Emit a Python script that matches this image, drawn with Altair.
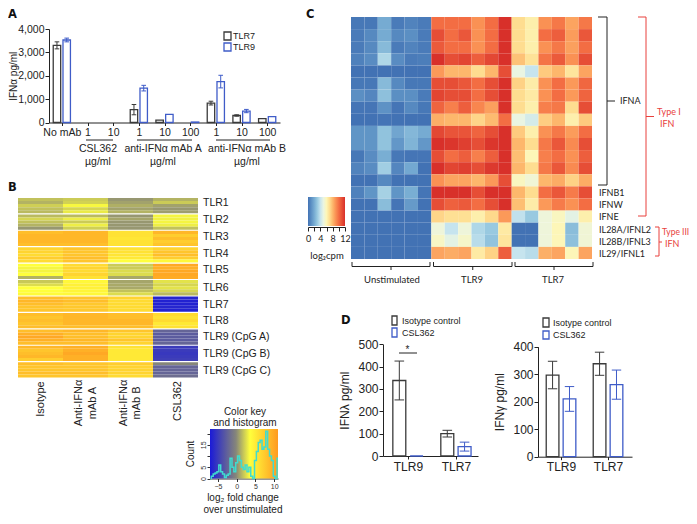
import altair as alt
import pandas as pd

# ---------- Panel A ----------
a_groups = ["No mAb", "1", "10", "1", "10", "100", "1", "10", "100"]
a_tlr7 = [3300, 0, 0, 550, 100, 0, 830, 300, 170]
a_tlr7_err = [150, 0, 0, 220, 0, 0, 80, 30, 0]
a_tlr9 = [3530, 0, 0, 1470, 350, 20, 1750, 490, 250]
a_tlr9_err = [80, 0, 0, 120, 0, 0, 270, 70, 0]
a_has_7 = [1, 0, 0, 1, 1, 0, 1, 1, 1]
a_has_9 = [1, 0, 0, 1, 1, 1, 1, 1, 1]

# ---------- Panel D ----------
d_groups = ["TLR9", "TLR7"]
d1_iso = [338, 100]
d1_iso_err = [87, 15]
d1_csl = [0, 42]
d1_csl_err = [0, 20]
d2_iso = [297, 338]
d2_iso_err = [50, 42]
d2_csl = [210, 262]
d2_csl_err = [45, 53]

# ---------- Panel B ----------
b_genes = ["TLR1", "TLR2", "TLR3", "TLR4", "TLR5", "TLR6", "TLR7", "TLR8",
           "TLR9 (CpG A)", "TLR9 (CpG B)", "TLR9 (CpG C)"]
b_cols = ["Isotype", "A", "B", "CSL362"]
b_iso = [[1.2, .8, 1.6, 1.2, 1.0], [1.0, 1.8, 1.2, .8, 0], [7.5, 8, 8, 8, 7.5], [6, 6, 5.5, 6.5, 5.5],
         [3, 2.7, 2.7, 3, .8], [1.4, 2, 3, 3, 3.3], [7.5, 8, 7.5, 7, 7], [7.5, 7, 7.5, 7, 7.5],
         [7.5, 8.5, 9, 8.5, 7.5], [8, 7, 7.5, 8, 6.5], [7.5, 7, 7, 7.5, 7]]
b_a = [[1.5, 1.7, 2.8, 1.8, 2.4], [1.0, 2.5, 1.5, 2.5, 1.6], [8, 8, 8, 8, 7.5], [7, 7, 7, 7.5, 7],
       [5.5, 6, 5.5, 6, 5], [3.5, 4, 4, 3.7, 3.5], [7, 7.5, 6.8, 6.8, 6.8], [8, 8, 8, 8, 7.5],
       [8, 7.5, 7.5, 8, 7.5], [8.5, 8.5, 9, 8.5, 8.5], [7, 7, 7, 7.5, 7]]
b_b = [[0, .3, .7, .3, .8], [0, .4, 0, 0, 0], [5, 5, 4.7, 5, 5], [5, 5, 4.8, 4.5, 3],
       [1.5, 1.5, 2, 2, .5], [.4, .5, .5, 1.2, 2], [6, 5.5, 5.5, 5.5, 5.5], [7.5, 7.5, 8, 8, 7.5],
       [7, 6, 6, 7, 6], [5, 4.5, 4.5, 4.5, 4.5], [6.5, 6, 6, 6, 5.5]]
b_csl = [[.8, 1.5, .3, 0, .2], [2.7, 2.6, 2.7, 2.5, 1.2], [8, 6.5, 7.5, 6.5, 7], [6, 7, 7.5, 6.5, 3.5],
         [9, 8.5, 9, 9, 8.8], [2.2, 1.8, 2.2, 1.8, 1], [-6.3, -6.5, -6.5, -6.3, -6.5], [5.5, 5, 5.5, 4.5, 5],
         [-2.5, -3, -3, -3, -2.5], [-5, -5, -5.2, -5, -4.8], [-.5, -2.5, -2.5, -2.5, -2]]

# histogram of the colour key
hist_x = [-7, -6.5, -6, -5.5, -5, -4.5, -4, -3.5, -3, -2.5, -2, -1.5, -1, -.5, 0, .5, 1, 1.5, 2, 2.5,
          3, 3.5, 4, 4.5, 5, 5.5, 6, 6.5, 7, 7.5, 8, 8.5, 9, 9.5, 10, 10.5, 11]
hist_n = [0, 1, 2, 2.5, 3, 6, 3, 2, .5, 1.5, 2, 9, 5, 3, 7, 10, 8, 5, 4, 6,
          3, 5, 1, 0, 8, 12, 16, 17, 13, 14, 21, 13, 10, 8, 1, 0, 9]

# ---------- Panel C: rows top to bottom, columns Unstimulated / TLR9 / TLR7 ----------
c_rows = ["IFNA1", "IFNA2", "IFNA3", "IFNA4", "IFNA5", "IFNA6", "IFNA7", "IFNA8", "IFNA9", "IFNA10",
          "IFNA11", "IFNA12", "IFNA13", "IFNA14", "IFNB1", "IFNW", "IFNE", "IL28A", "IL28B", "IL29"]
c_values = [
    [.2, .2, 2, .3, .6, .3, 10, 10, 10, 9, 10, 12, 7, 6.3, 9, 9.7, 8.5, 9.7],
    [.3, .8, 2, .8, 1, .3, 11, 10, 10.7, 9, 10, 12, 7, 6.3, 10, 10.5, 8.7, 10.7],
    [.3, .8, 2.5, .3, .6, .3, 10.6, 10, 10, 9, 10, 12, 7, 6.3, 9, 9.7, 8.6, 10],
    [.5, .9, 3.5, .9, .3, .4, 12, 11, 11.3, 10.5, 11.2, 12, 7.7, 6.8, 9.8, 10.6, 9, 11],
    [0, 0, 0, 0, 0, 0, 8.8, 8, 8, 7, 8, 11, 5, 4, 7.5, 8, 6.7, 8.5],
    [.2, .2, 2.5, .8, .2, .2, 11, 11, 10.7, 10, 11, 12, 7.3, 6.4, 9, 10, 8.8, 10.2],
    [1, .7, 2.7, 1, 1, .3, 11.3, 11, 11, 10, 11, 12, 7, 6.5, 9, 10, 8.8, 10.3],
    [.1, .1, 1.1, .1, .8, .2, 10.3, 9.5, 10.5, 9.3, 8.6, 12, 7, 6.3, 9.5, 9.7, 7, 11],
    [0, 0, .1, 0, 0, 0, 8.2, 8, 8, 7.2, 7.9, 10, 5, 4.4, 7.4, 8, 6.3, 7.5],
    [1.2, 1.2, 2.8, 1.8, 2.4, 2, 11.2, 10.8, 10.8, 10.3, 11, 12, 7.5, 6.3, 9, 9.7, 8.7, 10],
    [1.2, 1.2, 2.8, 1.3, 2.3, 1.3, 12, 11.8, 11.5, 11, 11.8, 12, 8, 7, 9.7, 10.7, 9.2, 11],
    [.2, .9, 2.1, .2, .1, .1, 11, 10, 10.5, 9.5, 10.5, 12, 7.8, 6, 9.5, 10, 9, 10.5],
    [.6, .9, 3.2, .7, 1.9, 0, 12, 11.3, 11.5, 11, 11.7, 12, 8, 7, 9.7, 10.7, 9.2, 11],
    [0, 0, .8, 0, 0, 0, 9, 8.5, 8.5, 8, 8.8, 11, 5.8, 5.3, 8, 8.3, 7.3, 8.3],
    [.5, 1.2, 3.3, 1.2, 2.1, .1, 12, 12, 12, 11, 12, 12, 8, 7, 10, 10.7, 9.6, 11],
    [0, 0, 2.6, .1, 1.4, 0, 11, 10.4, 10.6, 10, 11, 12, 7.8, 6.4, 8.8, 9.6, 9, 10],
    [0, 0, 0, 0, 0, 0, 7.2, 6.9, 6.9, 6.3, 7.1, 8.8, 3.9, 3, 5.2, 5.8, 4.8, 6.3],
    [0, 0, 0, 0, 0, 0, 5.2, 4, 5.2, 3.5, 3, 6.5, 0, 0, 5.2, 6, 2.6, 5.3],
    [0, 0, 0, 0, 0, 0, 5.7, 4.8, 5.6, 3.7, 2.8, 6.7, 0, 0, 5.2, 6, 2.7, 5.3],
    [0, 0, 0, 0, 0, 0, 8.5, 8.3, 8.5, 6.5, 7.3, 10.5, 4, 3.7, 8.2, 8.5, 6, 8.5],
]

# ---------- styling ----------
SANS = "Liberation Sans"
CAL = "Lato"
GREY = "#3a3a3a"
BLUE = "#3f5cc8"
RED = "#e8413c"
M = 8  # page margin
W, H = 681, 508

c_dom = [0, 1, 2, 3, 4, 5, 6, 7, 8, 9, 10, 11, 12]
c_rng = ["#4272b4", "#5b8fc3", "#76abd2", "#98c9e0", "#c6e4ee", "#eaf5e2", "#fdf6b8",
         "#fedd90", "#fdb76c", "#fa9154", "#f36d43", "#e64e36", "#d8302a"]
b_dom = [-7, -.5, 3, 10]
b_rng = ["#1a1ad8", "#86867a", "#ffff3c", "#ff9a20"]

ONE = alt.Data(values=[{"k": 1}])


def text(t, x, y, size=10, font=SANS, color="#222222", align="center", angle=0, weight="normal"):
    return alt.Chart(ONE).mark_text(text=t, font=font, fontSize=size, color=color, align=align,
                                    baseline="middle", angle=angle, fontWeight=weight).encode(
        x=alt.value(x - M), y=alt.value(y - M))


def panel_letter(t, x, y):
    return text(t, x, y, 11.5, font="DejaVu Sans", weight="bold", align="left", color="#111111")


def line(x1, y1, x2, y2, color="#222222", w=1.0):
    return alt.Chart(ONE).mark_rule(color=color, strokeWidth=w).encode(
        x=alt.value(x1 - M), y=alt.value(y1 - M), x2=alt.value(x2 - M), y2=alt.value(y2 - M))


def box(x1, y1, x2, y2, color):
    return alt.Chart(ONE).mark_rect(fill="white", stroke=color, strokeWidth=1.3).encode(
        x=alt.value(x1 - M), y=alt.value(y1 - M), x2=alt.value(x2 - M), y2=alt.value(y2 - M))


def gradient_rect(x1, y1, x2, y2, dom, rng):
    lo, hi = dom[0], dom[-1]
    stops = [alt.GradientStop(offset=(d - lo) / (hi - lo), color=c) for d, c in zip(dom, rng)]
    return alt.Chart(ONE).mark_rect(color=alt.LinearGradient(gradient="linear", stops=stops,
                                                             x1=0, x2=1, y1=0, y2=0)).encode(
        x=alt.value(x1 - M), y=alt.value(y1 - M), x2=alt.value(x2 - M), y2=alt.value(y2 - M))


def bar_panel(df, labels, xdom, xpx, ydom, ypx, yvals, ylabel, yfmt, label_size, off, bw, cap,
              title_pad, title_size, stroke_w=1.3):
    """df: idx, series, value, err, has"""
    d = df.copy()
    d["c"] = d["idx"] + d["series"].map({"a": -off, "b": off})
    d["l"] = d["c"] - bw / 2
    d["r"] = d["c"] + bw / 2
    d["lo"] = d["value"] - d["err"]
    d["hi"] = d["value"] + d["err"]
    d["cl"] = d["c"] - cap
    d["cr"] = d["c"] + cap
    xs = alt.Scale(domain=xdom, range=[xpx[0] - M, xpx[1] - M], nice=False, zero=False)
    ys = alt.Scale(domain=ydom, range=[ypx[0] - M, ypx[1] - M], nice=False, zero=False)
    st = alt.Stroke("series:N", scale=alt.Scale(domain=["a", "b"], range=[GREY, BLUE]), legend=None)
    label_list = ",".join("'%s'" % s for s in labels)
    xaxis = alt.Axis(values=list(range(len(labels))), labelExpr="[%s][datum.value]" % label_list,
                     title=None, grid=False, orient="bottom", offset=(ypx[0] - M) - H,
                     labelFont=SANS, labelFontSize=label_size, labelColor="#222222",
                     domainColor="#222222", tickColor="#222222", tickSize=3, labelPadding=2,
                     labelOverlap=False, labelFlush=False)
    yaxis = alt.Axis(values=yvals, format=yfmt, title=ylabel, grid=False, orient="left",
                     offset=-(xpx[0] - M), labelFont=SANS, labelFontSize=label_size,
                     labelColor="#222222", domainColor="#222222", tickColor="#222222",
                     tickSize=4, labelPadding=1, titleFont=SANS, titleFontSize=title_size,
                     titleFontWeight="normal", titleColor="#222222", titlePadding=title_pad,
                     labelOverlap=False)
    bar_df = d[d["has"] == 1]
    err_df = d[d["err"] > 0]
    return [
        alt.Chart(bar_df).mark_rect(fill="white", strokeWidth=stroke_w).encode(
            x=alt.X("l:Q", scale=xs, axis=xaxis), x2="r:Q",
            y=alt.Y("value:Q", scale=ys, axis=yaxis), y2=alt.Y2(datum=0), stroke=st),
        alt.Chart(err_df).mark_rule(strokeWidth=1).encode(
            x=alt.X("c:Q", scale=xs, axis=None), y=alt.Y("lo:Q", scale=ys, axis=None), y2="hi:Q", stroke=st),
        alt.Chart(err_df).mark_rule(strokeWidth=1).encode(
            x=alt.X("cl:Q", scale=xs, axis=None), x2="cr:Q", y=alt.Y("lo:Q", scale=ys, axis=None), stroke=st),
        alt.Chart(err_df).mark_rule(strokeWidth=1).encode(
            x=alt.X("cl:Q", scale=xs, axis=None), x2="cr:Q", y=alt.Y("hi:Q", scale=ys, axis=None), stroke=st),
    ]


def two_series(a, ae, b, be, has_a, has_b):
    rows = []
    for i in range(len(a)):
        rows.append({"idx": i, "series": "a", "value": a[i], "err": ae[i], "has": has_a[i]})
        rows.append({"idx": i, "series": "b", "value": b[i], "err": be[i], "has": has_b[i]})
    return pd.DataFrame(rows)


layers = []

# ---- A ----
a_df = two_series(a_tlr7, a_tlr7_err, a_tlr9, a_tlr9_err, a_has_7, a_has_9)
layers += bar_panel(a_df, a_groups, [-.5, 8.5], [49, 280], [0, 4000], [122.5, 29],
                    [0, 1000, 2000, 3000, 4000], "IFN\u03b1 pg/ml", ",d", 10.5, .19, .29, .09, -1, 10)
layers += [
    panel_letter("A", 8, 15),
    box(224, 32, 231, 40, GREY), text("TLR7", 233, 36, 9, align="left"),
    box(224, 43, 231, 51, BLUE), text("TLR9", 233, 47, 9, align="left"),
    line(86, 140, 113, 140), line(137, 140, 192, 140), line(216, 140, 270, 140),
    text("CSL362", 98, 149, 10.5), text("\u00b5g/ml", 98, 162, 10.5),
    text("anti-IFN\u03b1 mAb A", 163, 149, 10.5), text("\u00b5g/ml", 163, 162, 10.5),
    text("anti-IFN\u03b1 mAb B", 247, 149, 10.5), text("\u00b5g/ml", 247, 162, 10.5),
]

# ---- B ----
b_table = []
for col, block in zip(b_cols, [b_iso, b_a, b_b, b_csl]):
    for g, sub in enumerate(block):
        for s, v in enumerate(sub):
            b_table.append({"col": col, "y0": g + s * .186, "y1": g + (s + 1) * .186, "v": v})
b_df = pd.DataFrame(b_table)
layers.append(
    alt.Chart(b_df).mark_rect().encode(
        x=alt.X("col:N", axis=None, sort=b_cols,
                scale=alt.Scale(domain=b_cols, range=[18 - M, 198 - M], paddingInner=0, paddingOuter=0)),
        y=alt.Y("y0:Q", axis=None, scale=alt.Scale(domain=[0, 10.93], range=[198 - M, 377.5 - M], nice=False, zero=False)),
        y2="y1:Q",
        color=alt.Color("v:Q", legend=None, scale=alt.Scale(domain=b_dom, range=b_rng, interpolate="rgb")),
    ))
b_label_y = [203, 220, 237, 254, 270, 288, 305, 321, 337, 354, 371]
for g, yy in zip(b_genes, b_label_y):
    layers.append(text(g, 203, yy, 10.5, align="left"))
layers += [
    panel_letter("B", 8, 188),
    text("Isotype", 41, 399, 11, angle=270),
    text("Anti-IFN\u03b1", 79, 403, 11, angle=270), text("mAb A", 93, 403, 11, angle=270),
    text("Anti-IFN\u03b1", 124, 403, 11, angle=270), text("mAb B", 137, 403, 11, angle=270),
    text("CSL362", 178, 401, 11, angle=270),
]

# B colour key with histogram
layers.append(gradient_rect(210, 429, 278, 478.5, b_dom, b_rng))
hist_df = pd.DataFrame({"x": hist_x, "n": hist_n})
layers.append(
    alt.Chart(hist_df).mark_line(color="#3fdcd0", strokeWidth=1.5, interpolate="step").encode(
        x=alt.X("x:Q", scale=alt.Scale(domain=[-7.1, 11], range=[210 - M, 278 - M], nice=False, zero=False),
                axis=alt.Axis(values=[-5, 0, 5, 10], title=None, grid=False, orient="bottom",
                              offset=(478.5 - M) - H, tickSize=3, labelFont=SANS, labelFontSize=7,
                              labelColor="#333333", domainColor="#333333", tickColor="#333333",
                              labelPadding=1)),
        y=alt.Y("n:Q", scale=alt.Scale(domain=[0, 22], range=[478.5 - M, 429 - M], nice=False, zero=False),
                axis=alt.Axis(values=[0, 5, 10, 15, 20], title=None, grid=False, orient="left",
                              offset=-(210 - M), tickSize=3, labelFont=SANS, labelFontSize=7,
                              labelAngle=270, labelAlign="center", labelBaseline="bottom",
                              labelExpr="datum.value==10||datum.value==20?'':datum.label",
                              labelColor="#333333", domainColor="#333333", tickColor="#333333",
                              labelPadding=1, labelOverlap=False)),
    ))
layers += [
    text("Color key", 245, 412, 10), text("and histogram", 245, 423, 10),
    text("Count", 190.5, 454, 10, angle=270),
    text("log\u2082 fold change", 243, 498, 10), text("over unstimulated", 243, 510, 10),
]

# ---- C ----
c_cols = list(range(18))
c_table = []
for r, row in zip(c_rows, c_values):
    for col, v in zip(c_cols, row):
        c_table.append({"row": r, "col": col, "v": v})
c_df = pd.DataFrame(c_table)
layers.append(
    alt.Chart(c_df).mark_rect().encode(
        x=alt.X("col:O", axis=None, scale=alt.Scale(domain=c_cols, range=[351 - M, 592 - M], paddingInner=0, paddingOuter=0)),
        y=alt.Y("row:N", axis=None, sort=c_rows,
                scale=alt.Scale(domain=c_rows, range=[17 - M, 259 - M], paddingInner=0, paddingOuter=0)),
        color=alt.Color("v:Q", legend=None, scale=alt.Scale(domain=c_dom, range=c_rng, interpolate="rgb")),
    ))
layers += [
    panel_letter("C", 306, 15),
    gradient_rect(308, 197, 345, 226, c_dom, c_rng),
]
key_ticks = pd.DataFrame({"t": [0, 2, 4, 6, 8, 10, 12]})
layers.append(
    alt.Chart(key_ticks).mark_point(opacity=0).encode(
        x=alt.X("t:Q", scale=alt.Scale(domain=[0, 12], range=[308 - M, 345 - M], nice=False, zero=False),
                axis=alt.Axis(values=[0, 2, 4, 6, 8, 10, 12], title=None, grid=False, orient="bottom",
                              offset=(227 - M) - H, tickSize=4, labelFont=CAL, labelFontSize=9,
                              labelExpr="datum.value%4==0?datum.label:''", labelColor="#222222",
                              domainColor="#222222", tickColor="#222222", labelPadding=3,
                              labelOverlap=False, labelFlush=False)),
    ))
layers.append(text("log\u2082cpm", 327, 256, 9.5, font=CAL))


def bracket_down(x1, x2, top, bottom, stem):
    mid = (x1 + x2) / 2
    return [line(x1, top, x1, bottom), line(x2, top, x2, bottom), line(x1, bottom, x2, bottom),
            line(mid, bottom, mid, stem)]


layers += bracket_down(352, 430, 262, 266.5, 270)
layers += bracket_down(433.5, 512, 262, 266.5, 270)
layers += bracket_down(515, 593, 262, 266.5, 270)
layers += [
    text("Unstimulated", 392, 280, 9.5, font=CAL),
    text("TLR9", 472, 280, 9.5, font=CAL),
    text("TLR7", 553, 280, 9.5, font=CAL),
    # IFNA bracket
    line(598, 17, 607, 17), line(607, 17, 607, 185), line(598, 185, 607, 185), line(607, 101, 615, 101),
    text("IFNA", 620, 101, 9, font=CAL, align="left"),
    text("IFNB1", 599, 193, 9, font=CAL, align="left"),
    text("IFNW", 599, 204.5, 9, font=CAL, align="left"),
    text("IFNE", 599, 217, 9, font=CAL, align="left"),
    text("IL28A/IFNL2", 599, 229.5, 9, font=CAL, align="left"),
    text("IL28B/IFNL3", 599, 242, 9, font=CAL, align="left"),
    text("IL29/IFNL1", 599, 253.5, 9, font=CAL, align="left"),
    # red brackets
    line(638, 17, 646, 17, RED), line(646, 17, 646, 216, RED), line(638, 216, 646, 216, RED),
    line(646, 116.5, 654, 116.5, RED),
    text("Type I", 657, 112, 9, font=CAL, color=RED, align="left"),
    text("IFN", 660, 123.5, 9, font=CAL, color=RED, align="left"),
    line(655, 227, 659, 227, RED), line(659, 227, 659, 256, RED), line(655, 256, 659, 256, RED),
    line(659, 242, 662, 242, RED),
    text("Type III", 662, 232, 8.5, font=CAL, color=RED, align="left"),
    text("IFN", 665, 244, 9, font=CAL, color=RED, align="left"),
]

# ---- D ----
d1_df = two_series(d1_iso, d1_iso_err, d1_csl, d1_csl_err, [1, 1], [1, 1])
layers += bar_panel(d1_df, d_groups, [-.52, 1.46], [383, 478], [0, 500], [456, 344.3],
                    [0, 100, 200, 300, 400, 500], "IFN\u03bb pg/ml", "d", 12, .18, .27, .1, 6, 12)
d2_df = two_series(d2_iso, d2_iso_err, d2_csl, d2_csl_err, [1, 1], [1, 1])
layers += bar_panel(d2_df, d_groups, [-.49, 1.51], [538, 632], [0, 400], [456.7, 346.7],
                    [0, 100, 200, 300, 400], "IFN\u03b3 pg/ml", "d", 12, .18, .27, .1, 6, 12)
layers += [
    panel_letter("D", 341, 321),
    box(392, 316, 397, 325, GREY), text("Isotype control", 402, 321, 9, align="left"),
    box(392, 328, 397, 337, BLUE), text("CSL362", 402, 333, 9, align="left"),
    line(399, 353, 417, 353), text("*", 407.5, 350, 10),
    box(543, 318, 549, 327, GREY), text("Isotype control", 553, 323, 9, align="left"),
    box(543, 331, 549, 339, BLUE), text("CSL362", 553, 334.5, 9, align="left"),
]

chart = alt.layer(*layers).resolve_scale(
    x="independent", y="independent", color="independent", stroke="independent"
).resolve_axis(x="independent", y="independent").properties(
    width=W, height=H, padding=0, autosize=alt.AutoSizeParams(type="none")
).configure_view(stroke=None)

chart.save("out.html", embed_options={"renderer": "svg", "actions": False})
